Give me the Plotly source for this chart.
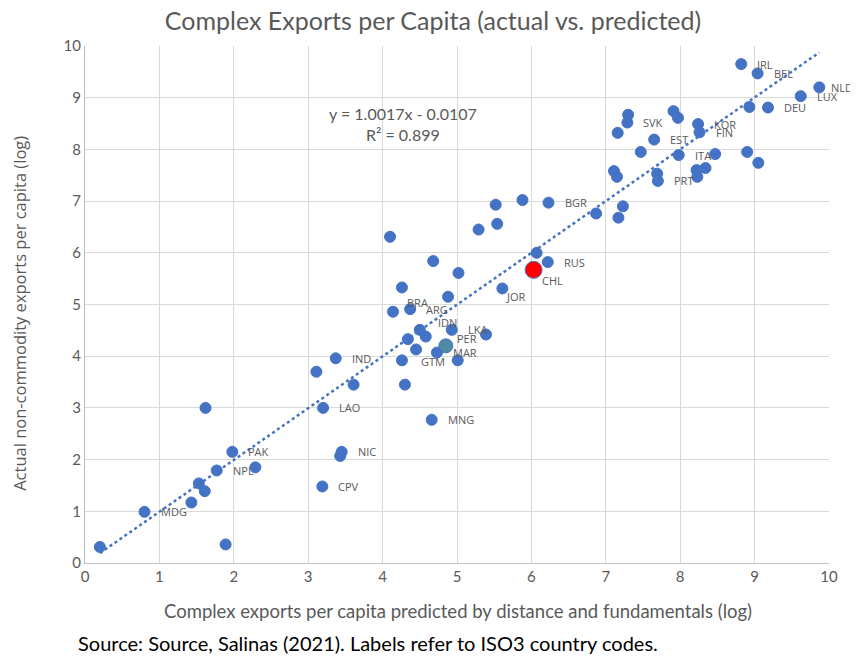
import plotly.graph_objects as go

# %% Data (both axes in logs)
country = [
    "", "MDG", "", "", "", "", "NPL", "PAK", "", "",
    "IND", "", "", "LAO", "NIC", "", "CPV", "", "GTM", "MNG",
    "MAR", "PER", "", "", "", "", "", "", "JOR", "BRA",
    "ARG", "IDN", "LKA", "", "", "", "", "", "", "",
    "", "BGR", "", "RUS", "CHL", "", "", "", "IRL", "BEL",
    "NLD", "LUX", "", "DEU", "", "SVK", "", "", "", "KOR",
    "FIN", "EST", "", "ITA", "", "", "", "", "", "",
    "PRT", "", "", "",
]
predicted = [
    0.20, 0.80, 1.43, 1.53, 1.61, 1.62, 1.77, 1.98, 2.29, 1.89,
    3.37, 3.11, 3.61, 3.20, 3.45, 3.43, 3.19, 4.30, 4.26, 4.66,
    4.73, 4.85, 5.01, 4.45, 4.34, 4.58, 4.26, 4.88, 5.61, 4.14,
    4.37, 4.50, 4.93, 5.39, 4.10, 4.68, 5.02, 5.29, 5.54, 5.52,
    5.88, 6.23, 6.07, 6.22, 6.03, 6.87, 7.23, 7.17, 8.82, 9.04,
    9.87, 9.62, 8.93, 9.18, 7.30, 7.29, 7.16, 7.91, 7.97, 8.24,
    8.26, 7.65, 7.47, 7.98, 8.47, 8.90, 9.05, 7.11, 7.15, 7.69,
    7.70, 8.22, 8.34, 8.23,
]
actual = [
    0.31, 0.99, 1.17, 1.54, 1.39, 3.00, 1.79, 2.15, 1.85, 0.36,
    3.96, 3.70, 3.45, 3.00, 2.15, 2.07, 1.48, 3.45, 3.92, 2.77,
    4.07, 4.20, 3.92, 4.13, 4.33, 4.38, 5.33, 5.15, 5.31, 4.86,
    4.91, 4.51, 4.51, 4.42, 6.31, 5.84, 5.61, 6.45, 6.56, 6.93,
    7.02, 6.97, 6.00, 5.82, 5.67, 6.76, 6.90, 6.68, 9.65, 9.47,
    9.20, 9.03, 8.82, 8.81, 8.67, 8.52, 8.32, 8.74, 8.61, 8.49,
    8.33, 8.19, 7.95, 7.89, 7.91, 7.95, 7.74, 7.58, 7.47, 7.53,
    7.39, 7.60, 7.64, 7.47,
]

# linear trendline as reported on the chart
slope, intercept, r2 = 1.0017, -0.0107, 0.899

# label nudges in pixels (default: to the right of the marker)
label_shift = {"JOR": (4, -8), "CHL": (8, -11), "PER": (11, 7), "IDN": (18, 7),
               "BRA": (14, 9), "GTM": (19, -1), "NLD": (12, 0)}

BLUE = "#4472C4"
GREY = "#595959"
FONT = "Lato"
LABEL_FONT = "Open Sans"

colors = [BLUE] * len(country)
sizes = [11] * len(country)
colors[country.index("CHL")] = "#FF0000"
sizes[country.index("CHL")] = 17
colors[country.index("PER")] = "#4E8CA6"
sizes[country.index("PER")] = 14

fig = go.Figure()
fig.add_trace(go.Scatter(
    x=predicted, y=actual, mode="markers",
    marker=dict(color=colors, size=sizes, opacity=1, line=dict(color=BLUE, width=1)),
    showlegend=False, hoverinfo="skip",
))

x_line = [min(predicted), max(predicted)]
fig.add_trace(go.Scatter(
    x=x_line, y=[slope * v + intercept for v in x_line], mode="lines",
    line=dict(color=BLUE, width=2.5, dash="dot"), showlegend=False, hoverinfo="skip",
))

for c, xv, yv in zip(country, predicted, actual):
    if not c:
        continue
    dx, dy = label_shift.get(c, (16, 0))
    fig.add_annotation(x=xv, y=yv, text=c, showarrow=False, xanchor="left",
                       xshift=dx - 2, yshift=dy, font=dict(family=LABEL_FONT, size=11, color=GREY))

fig.add_annotation(x=4.27, y=8.70, text=f"y = {slope}x - {abs(intercept)}", showarrow=False,
                   font=dict(family=FONT, size=16, color=GREY))
fig.add_annotation(x=4.27, y=8.29, text=f"R² = {r2}", showarrow=False,
                   font=dict(family=FONT, size=16, color=GREY))

# axis titles and source note
fig.add_annotation(xref="paper", yref="paper", x=0.501, y=-0.092, yanchor="middle",
                   text="Complex exports per capita predicted by distance and fundamentals (log)",
                   showarrow=False, font=dict(family=FONT, size=18.5, color=GREY))
fig.add_annotation(xref="paper", yref="paper", x=-0.088, y=0.483, textangle=-90,
                   xanchor="center", yanchor="middle",
                   text="Actual non-commodity exports per capita (log)",
                   showarrow=False, font=dict(family=LABEL_FONT, size=16.5, color=GREY))
fig.add_annotation(xref="paper", yref="paper", x=-0.012, y=-0.155, xanchor="left", yanchor="middle",
                   text="Source: Source, Salinas (2021). Labels refer to ISO3 country codes.",
                   showarrow=False, font=dict(family=FONT, size=20, color="black"))

axis_style = dict(range=[0, 10], dtick=1, showgrid=True, gridcolor="#D9D9D9", gridwidth=1,
                  zeroline=False, showline=True, linecolor="#BFBFBF", linewidth=1,
                  ticks="", automargin=False, tickfont=dict(family=FONT, size=15, color=GREY))
fig.update_xaxes(**axis_style)
fig.update_yaxes(**axis_style)

# page body adds an 8px margin, so the figure is drawn 8px smaller and shifted
fig.update_layout(
    width=850, height=650,
    margin=dict(l=77, r=29, t=38, b=95),
    paper_bgcolor="white", plot_bgcolor="white",
    title=dict(text="Complex Exports per Capita (actual vs. predicted)", x=0.5, xanchor="center",
               y=0.979, yanchor="middle", font=dict(family=FONT, size=25, color=GREY)),
)

fig.write_html("out.html")
